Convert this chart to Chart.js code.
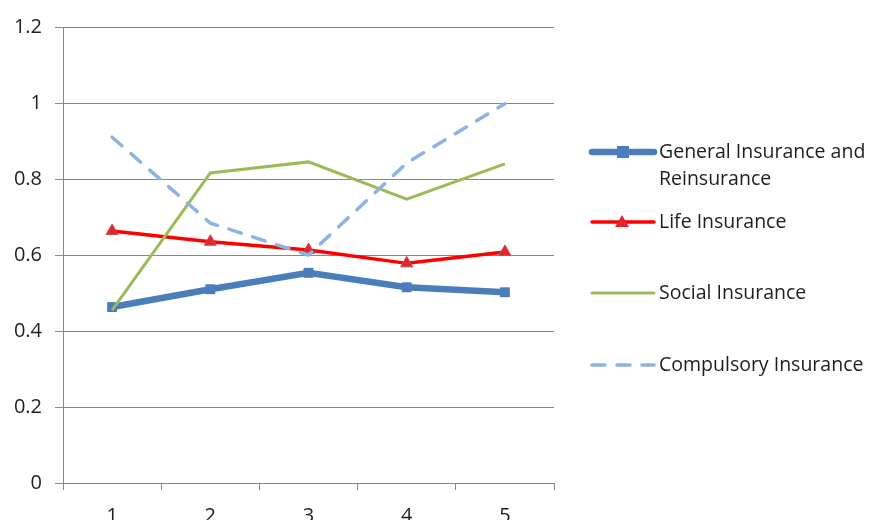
<!DOCTYPE html>
<html lang="en">
<head>
    <meta charset="UTF-8">
    <title>Insurance Chart</title>
    <script src="https://cdn.jsdelivr.net/npm/chart.js"></script>
    <style>
        html, body { margin: 0; padding: 0; background: #fff; overflow: hidden; }
        #wrap { width: 876px; height: 540px; }
    </style>
</head>
<body>
    <div id="wrap"><canvas id="chart" width="876" height="540"></canvas></div>

    <script>
// Data
const labels = ['1', '2', '3', '4', '5'];
const generalIns = [0.463, 0.51, 0.553, 0.515, 0.502];
const lifeIns = [0.663, 0.635, 0.613, 0.578, 0.608];
const socialIns = [0.455, 0.816, 0.845, 0.747, 0.84];
const compulsoryIns = [0.91, 0.684, 0.6, 0.842, 0.998];
const seriesNames = [['General Insurance and', 'Reinsurance'], ['Life Insurance'], ['Social Insurance'], ['Compulsory Insurance']];

const FONT = '"Open Sans", "Noto Sans", sans-serif';
const gridColor = '#878787';
const textColor = '#1e1e1e';

// Draws the Excel-like legend on the right
const sideLegend = {
    id: 'sideLegend',
    afterDraw(chart) {
        const ctx = chart.ctx;
        const rows = [152, 222, 293, 365];
        ctx.save();
        ctx.font = '19.5px ' + FONT;
        ctx.textBaseline = 'middle';
        chart.data.datasets.forEach((ds, i) => {
            const y = rows[i];
            ctx.strokeStyle = ds.borderColor;
            ctx.lineWidth = ds.borderWidth;
            ctx.lineCap = 'round';
            ctx.setLineDash(ds.borderDash || []);
            ctx.beginPath();
            ctx.moveTo(592, y);
            ctx.lineTo(654, y);
            ctx.stroke();
            ctx.setLineDash([]);
            if (ds.pointStyle === 'rect') {
                ctx.fillStyle = ds.pointBackgroundColor;
                ctx.fillRect(617, y - 6, 12, 12);
            } else if (ds.pointStyle === 'triangle') {
                ctx.fillStyle = ds.pointBackgroundColor;
                ctx.beginPath();
                ctx.moveTo(622, y - 7);
                ctx.lineTo(629, y + 5);
                ctx.lineTo(615, y + 5);
                ctx.closePath();
                ctx.fill();
            }
            ctx.fillStyle = textColor;
            seriesNames[i].forEach((t, k) => ctx.fillText(t, 659, y + k * 27));
        });
        ctx.restore();
    }
};

new Chart(document.getElementById('chart'), {
    type: 'line',
    data: {
        labels: labels,
        datasets: [{
            label: 'General Insurance and Reinsurance',
            data: generalIns,
            borderColor: '#4a7ebb',
            borderWidth: 6.5,
            pointStyle: 'rect',
            pointRadius: 7,
            pointBackgroundColor: '#4a7ebb',
            pointBorderColor: '#4a7ebb',
            pointBorderWidth: 0,
            order: 4
        }, {
            label: 'Life Insurance',
            data: lifeIns,
            borderColor: '#ff0000',
            borderWidth: 3.5,
            pointStyle: 'triangle',
            pointRadius: 7,
            pointBackgroundColor: '#e0262b',
            pointBorderColor: '#c0504d',
            pointBorderWidth: 1,
            order: 3
        }, {
            label: 'Social Insurance',
            data: socialIns,
            borderColor: '#9bbb59',
            borderWidth: 3,
            pointRadius: 0,
            order: 2
        }, {
            label: 'Compulsory Insurance',
            data: compulsoryIns,
            borderColor: '#8db3e2',
            borderWidth: 3.5,
            borderDash: [13, 12],
            borderCapStyle: 'round',
            pointRadius: 0,
            order: 1
        }]
    },
    options: {
        responsive: false,
        animation: false,
        layout: { padding: { top: 27, right: 322, left: 0, bottom: 0 } },
        elements: { line: { tension: 0 } },
        scales: {
            x: {
                offset: true,
                grid: { offset: true, drawOnChartArea: false, color: gridColor, tickLength: 7 },
                border: { color: gridColor },
                ticks: { color: textColor, font: { family: FONT, size: 20 }, padding: 14, maxRotation: 0 },
                afterFit(scale) { scale.height = 57; }
            },
            y: {
                min: 0,
                max: 1.2,
                ticks: { stepSize: 0.2, color: textColor, font: { family: FONT, size: 20 }, padding: 13,
                    callback: v => Math.round(v * 10) / 10 },
                grid: { color: gridColor, tickLength: 8 },
                border: { color: gridColor },
                afterFit(scale) { scale.width = 63; }
            }
        },
        plugins: {
            legend: { display: false },
            tooltip: { enabled: false }
        }
    },
    plugins: [sideLegend]
});
    </script>
</body>
</html>
